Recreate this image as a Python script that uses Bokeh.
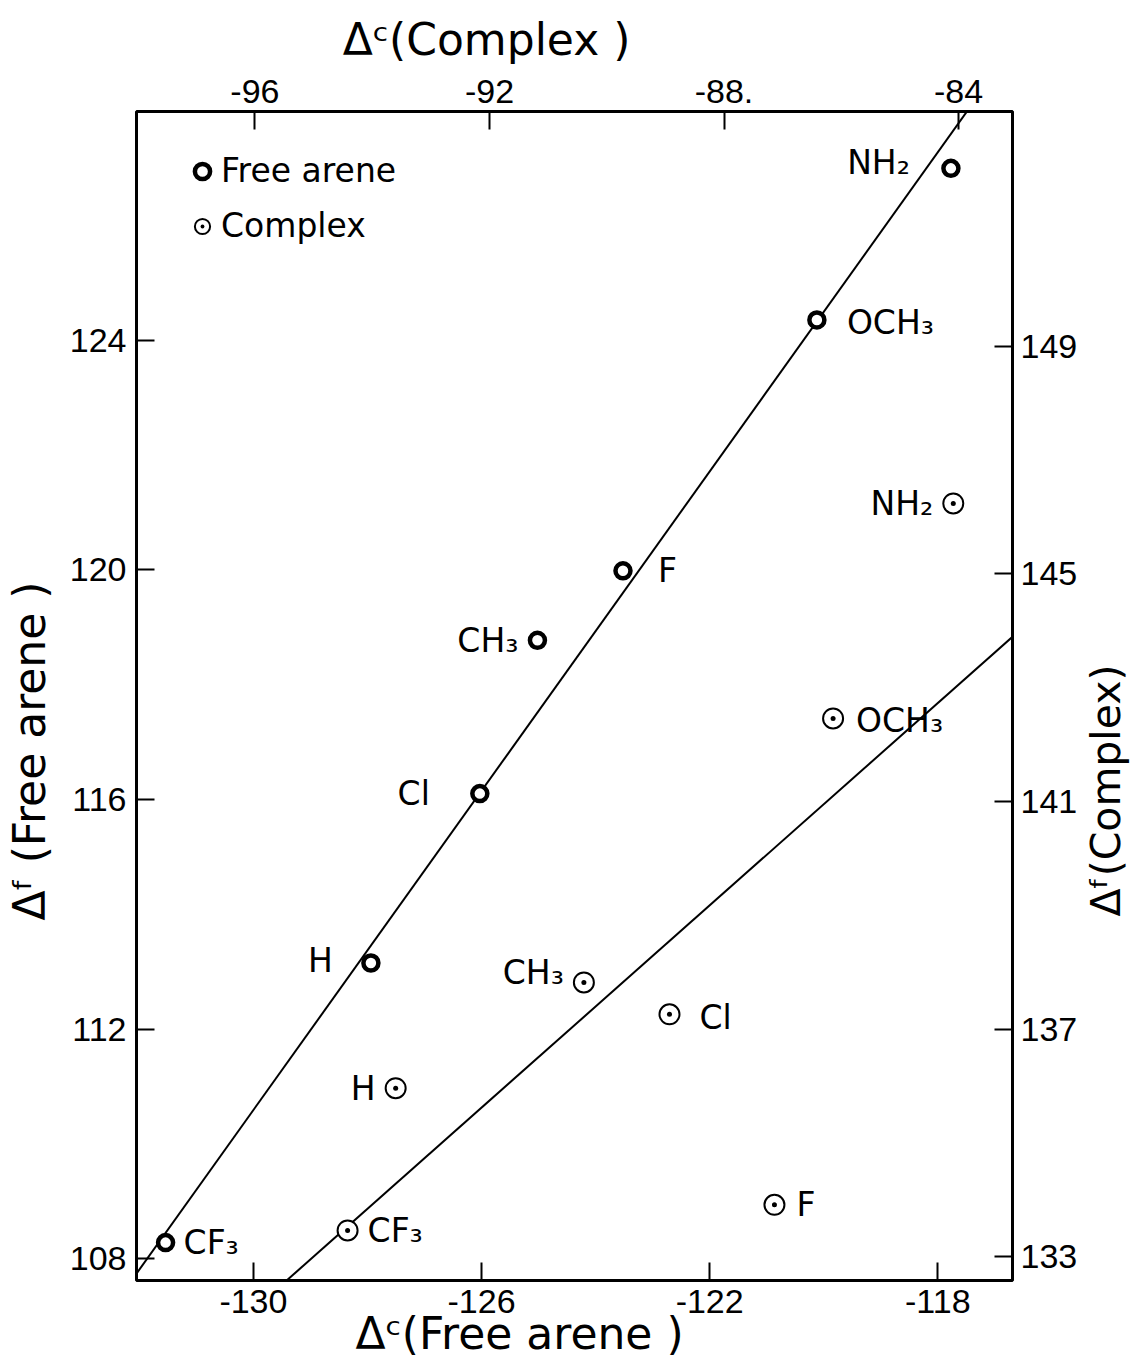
import math
from bokeh.plotting import figure
from bokeh.layouts import row
from bokeh.models import (Range1d, LinearAxis, FixedTicker, Legend,
                          LegendItem, ColumnDataSource, Label)
from bokeh.embed import file_html
from bokeh.resources import INLINE

# ---------------- data ----------------
substituents = ["NH₂", "OCH₃", "F", "CH₃", "Cl", "H", "CF₃"]
# free arene: Delta^C (bottom axis) vs Delta^F (left axis)
free_dc = [-117.77, -120.12, -123.52, -125.02, -126.03, -127.94, -131.54]
free_df = [126.99, 124.35, 119.98, 118.77, 116.10, 113.15, 108.28]
# complex: Delta^C (top axis) vs Delta^F (right axis)
complex_dc = [-84.09, -86.14, -87.14, -90.39, -88.93, -93.60, -94.42]
complex_df = [146.24, 142.46, 133.91, 137.82, 137.26, 135.96, 133.46]

# fitted lines (slope, intercept)
free_fit = (1.39, 291.29)
complex_fit = (0.914, 219.83)

bottom_ticks = [-130, -126, -122, -118]
bottom_tick_labels = ["-130", "-126", "-122", "-118"]
top_ticks = [-96, -92, -88, -84]
top_tick_labels = ["-96", "-92", "-88.", "-84"]
left_ticks = [108, 112, 116, 120, 124]
right_ticks = [133, 137, 141, 145, 149]

# axis ranges
free_x_range = (-132.05, -116.69)
free_y_range = (107.62, 127.98)
complex_x_range = (-98.02, -83.08)
complex_y_range = (132.58, 153.13)

# ---------------- label styling (screen offsets) ----------------
free_lab_dx = [-41, 30, 35, -19, -50, -38, 18]
free_lab_dy = [-6, 3, 0, 0, 0, -2, 0]
free_lab_align = ["right", "left", "left", "right", "right", "right", "left"]
complex_lab_dx = [-20, 23, 22, -20, 30, -20, 20]
complex_lab_dy = [0, 2, 0, -10, 3, 0, 0]
complex_lab_align = ["right", "left", "left", "right", "left", "right", "left"]

TICK_FONT = "Liberation Sans"
TEXT_FONT = "DejaVu Sans"
SP = "\u2002"  # en space, used to shift centred axis titles
H = 1372
FRAME_TOP = 111
FRAME_BOTTOM = 1280

p = figure(width=1080, height=H,
           x_range=Range1d(*free_x_range), y_range=Range1d(*free_y_range),
           output_backend="svg", toolbar_location=None,
           min_border_left=133, min_border_right=68,
           min_border_top=FRAME_TOP, min_border_bottom=H - FRAME_BOTTOM)
p.extra_x_ranges = {"cx": Range1d(*complex_x_range)}
p.extra_y_ranges = {"cy": Range1d(*complex_y_range)}

bottom_axis = p.below[0]
left_axis = p.left[0]
bottom_axis.ticker = FixedTicker(ticks=bottom_ticks)
bottom_axis.major_label_overrides = dict(zip(bottom_ticks, bottom_tick_labels))
left_axis.ticker = FixedTicker(ticks=left_ticks)
top_axis = LinearAxis(x_range_name="cx", ticker=FixedTicker(ticks=top_ticks),
                      major_label_overrides=dict(zip(top_ticks, top_tick_labels)))
right_axis = LinearAxis(y_range_name="cy", ticker=FixedTicker(ticks=right_ticks))
p.add_layout(top_axis, "above")
p.add_layout(right_axis, "right")

bottom_axis.axis_label = "Δᶜ(Free arene )" + SP * 5
top_axis.axis_label = "Δᶜ(Complex )" + SP * 8
left_axis.axis_label = "Δᶠ (Free arene )" + SP * 5

for ax in [bottom_axis, left_axis, top_axis, right_axis]:
    ax.axis_line_color = None
    ax.major_tick_in = 18
    ax.major_tick_out = 0
    ax.major_tick_line_width = 2
    ax.major_tick_line_color = "black"
    ax.minor_tick_line_color = None
    ax.major_label_text_font = TICK_FONT
    ax.major_label_text_font_size = "34px"
    ax.major_label_text_color = "black"
    ax.major_label_standoff = 8
    ax.axis_label_text_font = TEXT_FONT
    ax.axis_label_text_font_size = "44px"
    ax.axis_label_text_font_style = "normal"
    ax.axis_label_text_color = "black"

left_axis.major_label_standoff = 10
top_axis.major_label_standoff = 9
bottom_axis.major_label_standoff = 9
bottom_axis.axis_label_standoff = -8
top_axis.axis_label_standoff = 12
left_axis.axis_label_standoff = 12

p.grid.visible = False
p.outline_line_color = "black"
p.outline_line_width = 3
p.background_fill_color = "white"
p.border_fill_color = "white"

# fitted lines
fx = list(free_x_range)
fy = [free_fit[1] + free_fit[0] * v for v in fx]
p.line(fx, fy, line_color="black", line_width=2)
cx = list(complex_x_range)
cy = [complex_fit[1] + complex_fit[0] * v for v in cx]
p.line(cx, cy, line_color="black", line_width=2, x_range_name="cx", y_range_name="cy")

# points
free_src = ColumnDataSource(dict(x=free_dc, y=free_df, t=substituents,
                                 dx=free_lab_dx, dy=free_lab_dy, al=free_lab_align))
cpx_src = ColumnDataSource(dict(x=complex_dc, y=complex_df, t=substituents,
                                dx=complex_lab_dx, dy=complex_lab_dy, al=complex_lab_align))

rf = p.scatter("x", "y", source=free_src, marker="circle", size=15, line_width=4.5,
               line_color="black", fill_color="white")
rc = p.scatter("x", "y", source=cpx_src, marker="circle_dot", size=20, line_width=2,
               line_color="black", fill_color="white", x_range_name="cx", y_range_name="cy")

p.text("x", "y", text="t", source=free_src, x_offset="dx", y_offset="dy",
       text_align="al", text_baseline="middle", text_font_size="33px",
       text_font={"value": TEXT_FONT}, text_color="black")
p.text("x", "y", text="t", source=cpx_src, x_offset="dx", y_offset="dy",
       text_align="al", text_baseline="middle", text_font_size="33px",
       text_font={"value": TEXT_FONT}, text_color="black",
       x_range_name="cx", y_range_name="cy")

legend = Legend(items=[LegendItem(label="Free arene", renderers=[rf]),
                       LegendItem(label="Complex", renderers=[rc])],
                location=(47, FRAME_BOTTOM - 245), margin=0, padding=0, spacing=16,
                glyph_width=38, glyph_height=38, label_height=38,
                label_standoff=0, label_text_font=TEXT_FONT,
                label_text_font_size="33px", label_text_color="black",
                background_fill_alpha=0, border_line_alpha=0)
p.add_layout(legend, "center")

# right-hand axis title (reads bottom to top) in a narrow companion canvas;
# the row layout aligns its frame with the main frame.
q = figure(width=51, height=H, x_range=Range1d(0, 1), y_range=Range1d(0, 1),
           output_backend="svg", toolbar_location=None,
           x_axis_location=None, y_axis_location=None,
           min_border_left=0, min_border_right=0,
           min_border_top=FRAME_TOP, min_border_bottom=H - FRAME_BOTTOM)
q.grid.visible = False
q.outline_line_color = None
q.background_fill_color = "white"
q.border_fill_color = "white"
q.add_layout(Label(x=25, y=FRAME_BOTTOM - 790, x_units="screen", y_units="screen",
                   text="Δᶠ(Complex)", angle=math.pi / 2,
                   text_align="center", text_baseline="middle",
                   text_font=TEXT_FONT, text_font_size="41px", text_color="black"))

open("out.html", "w").write(file_html(row(p, q), INLINE))
